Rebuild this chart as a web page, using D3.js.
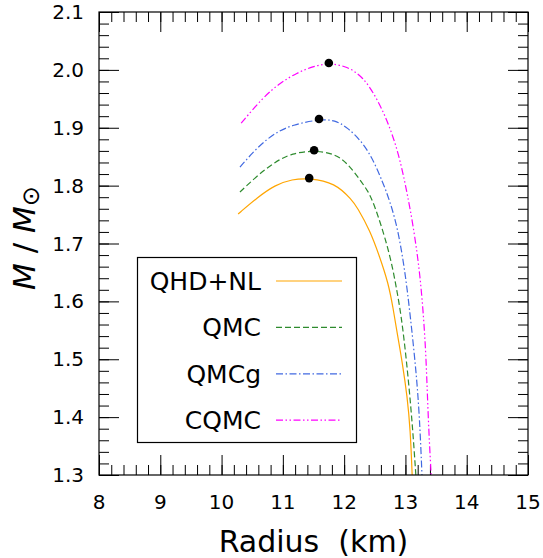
<!DOCTYPE html>
<html lang="en">
<meta charset="utf-8">
<style>
body { margin: 0; background: #fff; font-family: 'DejaVu Sans', sans-serif; }
</style>
<body>
<div id="chart"></div>
<script src="https://d3js.org/d3.v7.min.js"></script>
<script>

// models shown in the legend
var models = ["QHD+NL", "QMC", "QMCg", "CQMC"];

// radius (km) and mass (solar masses)
var radiusQHD = [10.27, 10.59, 10.87, 11.15, 11.43, 11.85, 12.13, 12.21, 12.42, 12.58, 12.72, 12.80, 12.87, 12.95, 13.03, 13.08, 13.11];
var massQHD   = [1.751, 1.780, 1.801, 1.811, 1.813, 1.805, 1.775, 1.763, 1.723, 1.677, 1.632, 1.588, 1.542, 1.494, 1.435, 1.378, 1.300];

var radiusQMC = [10.30, 10.59, 10.87, 11.15, 11.51, 11.85, 12.05, 12.26, 12.39, 12.46, 12.58, 12.75, 12.86, 12.95, 13.05, 13.12, 13.17];
var massQMC   = [1.789, 1.818, 1.841, 1.856, 1.861, 1.855, 1.839, 1.810, 1.790, 1.775, 1.740, 1.680, 1.620, 1.563, 1.464, 1.378, 1.300];

var radiusQMCg = [10.30, 10.59, 10.87, 11.15, 11.61, 11.85, 12.05, 12.31, 12.50, 12.63, 12.70, 12.86, 12.99, 13.08, 13.19, 13.24, 13.27];
var massQMCg   = [1.832, 1.867, 1.891, 1.905, 1.915, 1.913, 1.901, 1.874, 1.839, 1.805, 1.787, 1.735, 1.655, 1.575, 1.464, 1.378, 1.300];

var radiusCQMC = [10.32, 10.68, 10.95, 11.23, 11.49, 11.75, 12.05, 12.31, 12.54, 12.72, 12.86, 12.96, 13.04, 13.12, 13.24, 13.32, 13.35, 13.38, 13.42];
var massCQMC   = [1.908, 1.953, 1.977, 1.995, 2.006, 2.012, 2.006, 1.988, 1.950, 1.908, 1.865, 1.822, 1.780, 1.735, 1.649, 1.540, 1.464, 1.378, 1.300];

// maximum mass points
var maxRadius = [11.43, 11.51, 11.59, 11.75];
var maxMass   = [1.813, 1.861, 1.915, 2.012];

var xTicks = [8, 9, 10, 11, 12, 13, 14, 15];
var yTicks = [1.3, 1.4, 1.5, 1.6, 1.7, 1.8, 1.9, 2.0, 2.1];

var colors = ["#ffa500", "#2e8b2e", "#4169e1", "#ff00ff"];
var dashes = ["none", "6,3", "7,2.5,1.5,2.5", "7,2.5,1.5,2.5,1.5,2.5"];

var width = 543, height = 558;
var plotLeft = 99, plotRight = 528, plotTop = 12, plotBottom = 475;

var svg = d3.select("#chart").append("svg")
    .attr("width", width)
    .attr("height", height);

var x = d3.scaleLinear().domain([8, 15]).range([plotLeft, plotRight]);
var y = d3.scaleLinear().domain([1.3, 2.1]).range([plotBottom, plotTop]);

var series = [
  d3.zip(radiusQHD, massQHD),
  d3.zip(radiusQMC, massQMC),
  d3.zip(radiusQMCg, massQMCg),
  d3.zip(radiusCQMC, massCQMC)
];

// ticks on all four sides, pointing inward
var xMinor = d3.range(0, 36).map(function(i) { return 8 + i * 0.2; });
var yMinor = d3.range(0, 41).map(function(i) { return 1.3 + i * 0.02; });

function addAxis(axis, transform) {
  svg.append("g")
      .attr("transform", transform)
      .call(axis)
      .call(function(g) { g.select(".domain").remove(); g.selectAll("text").remove(); });
}

addAxis(d3.axisBottom(x).tickValues(xMinor).tickSize(-10), "translate(0," + plotBottom + ")");
addAxis(d3.axisBottom(x).tickValues(xTicks).tickSize(-20), "translate(0," + plotBottom + ")");
addAxis(d3.axisTop(x).tickValues(xMinor).tickSize(-10), "translate(0," + plotTop + ")");
addAxis(d3.axisTop(x).tickValues(xTicks).tickSize(-20), "translate(0," + plotTop + ")");
addAxis(d3.axisLeft(y).tickValues(yMinor).tickSize(-10), "translate(" + plotLeft + ",0)");
addAxis(d3.axisLeft(y).tickValues(yTicks).tickSize(-20), "translate(" + plotLeft + ",0)");
addAxis(d3.axisRight(y).tickValues(yMinor).tickSize(-10), "translate(" + plotRight + ",0)");
addAxis(d3.axisRight(y).tickValues(yTicks).tickSize(-20), "translate(" + plotRight + ",0)");

svg.selectAll(".tick line").attr("stroke", "#000").attr("stroke-width", 1);

// tick labels
svg.append("g").selectAll("text")
    .data(xTicks)
  .enter().append("text")
    .attr("x", function(d) { return x(d); })
    .attr("y", 509)
    .attr("text-anchor", "middle")
    .style("font-size", "20px")
    .text(function(d) { return d; });

svg.append("g").selectAll("text")
    .data(yTicks)
  .enter().append("text")
    .attr("x", 84)
    .attr("y", function(d) { return y(d) + 7; })
    .attr("text-anchor", "end")
    .style("font-size", "20px")
    .text(function(d) { return d.toFixed(1); });

// curves
var line = d3.line()
    .x(function(d) { return x(d[0]); })
    .y(function(d) { return y(d[1]); })
    .curve(d3.curveBasis);

svg.append("defs").append("clipPath").attr("id", "clip")
  .append("rect").attr("x", plotLeft).attr("y", plotTop)
    .attr("width", plotRight - plotLeft).attr("height", plotBottom - plotTop);

svg.append("g").attr("clip-path", "url(#clip)")
  .selectAll("path")
    .data(series)
  .enter().append("path")
    .attr("d", line)
    .attr("fill", "none")
    .attr("stroke", function(d, i) { return colors[i]; })
    .attr("stroke-width", 1.2)
    .attr("stroke-dasharray", function(d, i) { return dashes[i]; });

svg.append("g").selectAll("circle")
    .data(d3.zip(maxRadius, maxMass))
  .enter().append("circle")
    .attr("cx", function(d) { return x(d[0]); })
    .attr("cy", function(d) { return y(d[1]); })
    .attr("r", 4.3)
    .attr("fill", "#000");

// frame
svg.append("rect")
    .attr("x", plotLeft).attr("y", plotTop)
    .attr("width", plotRight - plotLeft).attr("height", plotBottom - plotTop)
    .attr("fill", "none")
    .attr("stroke", "#000")
    .attr("stroke-width", 1.2);

// legend
var legend = svg.append("g");
legend.append("rect")
    .attr("x", 137.5).attr("y", 257.5)
    .attr("width", 219).attr("height", 185)
    .attr("fill", "#fff")
    .attr("stroke", "#000")
    .attr("stroke-width", 1.2);

var rows = legend.selectAll("g.row")
    .data(models)
  .enter().append("g")
    .attr("class", "row")
    .attr("transform", function(d, i) { return "translate(0," + (281 + i * 46.4) + ")"; });

rows.append("text")
    .attr("x", 261)
    .attr("y", 9)
    .attr("text-anchor", "end")
    .style("font-size", "25px")
    .text(function(d) { return d; });

rows.append("line")
    .attr("x1", 276).attr("x2", 342)
    .attr("y1", 0).attr("y2", 0)
    .attr("stroke", function(d, i) { return colors[i]; })
    .attr("stroke-width", 1.2)
    .attr("stroke-dasharray", function(d, i) { return dashes[i]; });

// axis titles
svg.append("text")
    .attr("x", (plotLeft + plotRight) / 2)
    .attr("y", 552)
    .attr("text-anchor", "middle")
    .style("font-size", "30px")
    .text("Radius\u00a0\u00a0(km)");

var yTitle = svg.append("text")
    .attr("transform", "translate(35,238) rotate(-90)")
    .attr("text-anchor", "middle")
    .style("font-size", "31px");
yTitle.append("tspan").style("font-style", "italic").text("M");
yTitle.append("tspan").text(" / ");
yTitle.append("tspan").style("font-style", "italic").text("M");
yTitle.append("tspan").attr("dy", 4).style("font-size", "24px").text("\u2299");

</script>
</body>
</html>
